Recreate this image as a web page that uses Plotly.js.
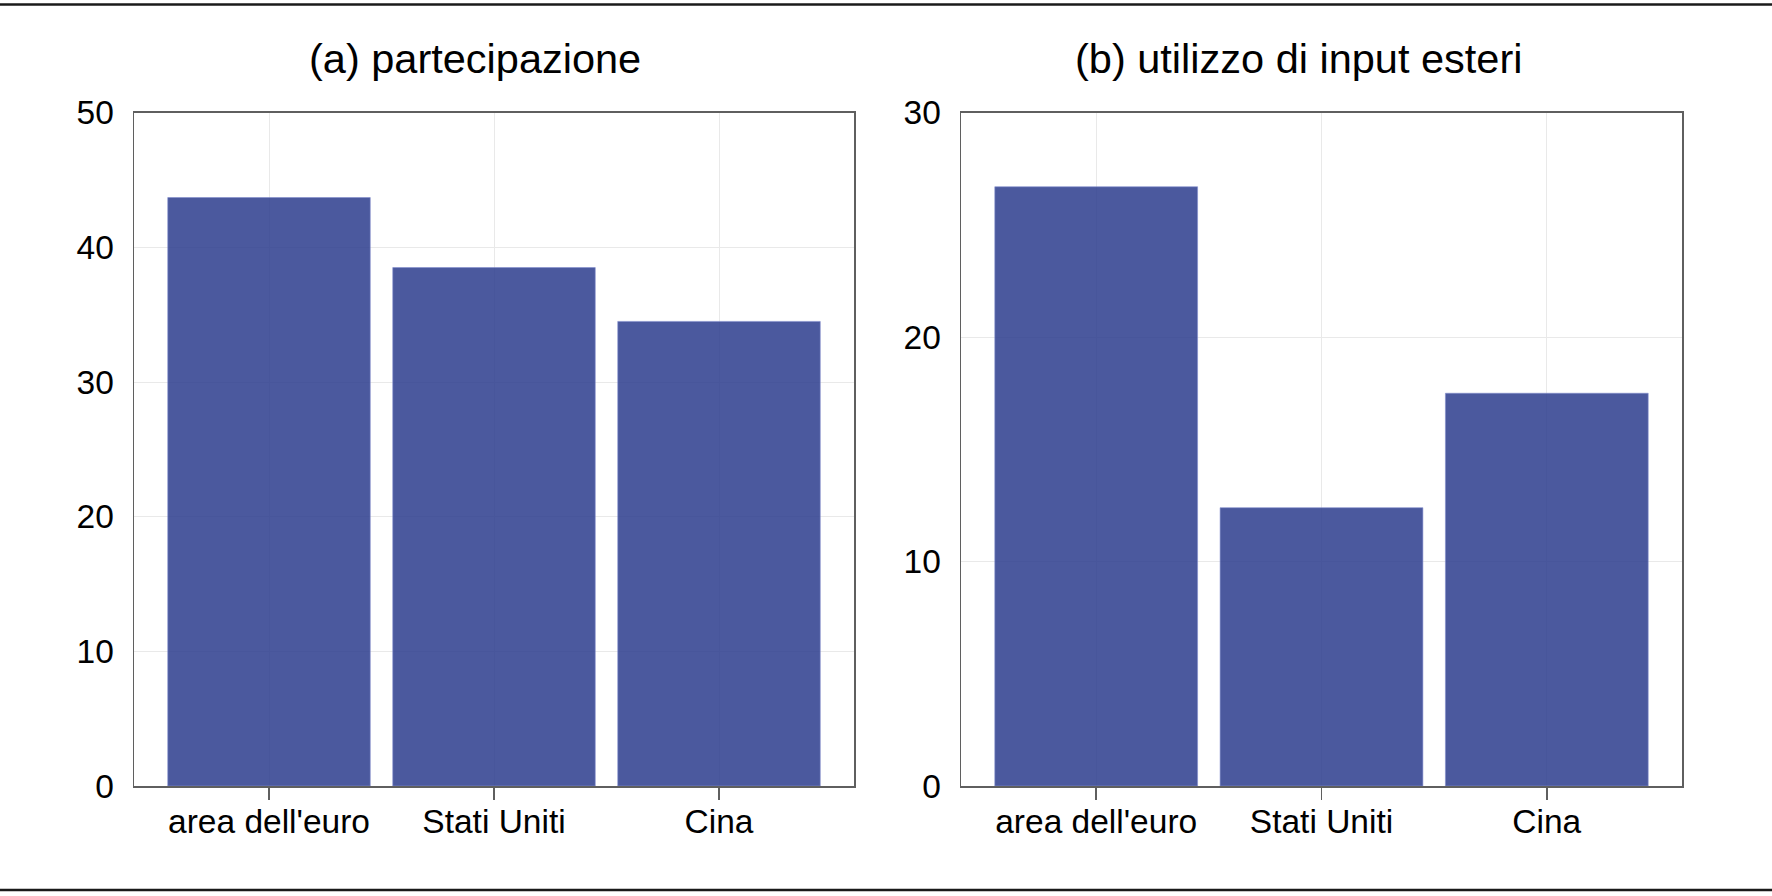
<!DOCTYPE html>
<html>
<head>
<meta charset="utf-8">
<script src="https://cdn.plot.ly/plotly-3.0.1.min.js"></script>
<style>
html,body{margin:0;padding:0;background:#fff;}
#chart{width:1772px;height:896px;}
</style>
</head>
<body>
<div id="chart"></div>
<script>
const categories = ["area dell'euro", "Stati Uniti", "Cina"];
const partecipazione = [43.7, 38.5, 34.5];
const inputEsteri = [26.7, 12.4, 17.5];
const titles = ["(a) partecipazione", "(b) utilizzo di input esteri"];
const yTicksA = [0, 10, 20, 30, 40, 50];
const yTicksB = [0, 10, 20, 30];

const W = 1772, H = 896;
const barColor = 'rgba(43,60,141,0.85)';
const barLine = {width: 1, color: 'rgba(130,140,205,0.6)'};
const font = "'Liberation Sans', Arial, Helvetica, sans-serif";

const traces = [
  {type: 'bar', x: categories, y: partecipazione, xaxis: 'x', yaxis: 'y',
   marker: {color: barColor, line: barLine}, hoverinfo: 'x+y'},
  {type: 'bar', x: categories, y: inputEsteri, xaxis: 'x2', yaxis: 'y2',
   marker: {color: barColor, line: barLine}, hoverinfo: 'x+y'}
];

const yDom = [1 - 786 / H, 1 - 112.7 / H];
const axisCommon = {
  showline: true, mirror: true, linecolor: '#5f5f5f', linewidth: 1.5,
  showgrid: true, gridcolor: '#e9e9e9', gridwidth: 1,
  zeroline: false, tickfont: {size: 33.5, color: '#000', family: font}
};
const xCommon = Object.assign({}, axisCommon, {
  type: 'category', range: [-0.6, 2.6], ticks: 'outside', ticklen: 12,
  tickcolor: '#5f5f5f', tickwidth: 1.5, fixedrange: true, ticklabelstandoff: -7
});
const yCommon = Object.assign({}, axisCommon, {
  ticks: '', ticklabelstandoff: 12, fixedrange: true
});

const layout = {
  width: W, height: H,
  margin: {l: 0, r: 0, t: 0, b: 0},
  paper_bgcolor: '#fff', plot_bgcolor: '#fff',
  showlegend: false, bargap: 0.1,
  font: {family: font, color: '#000'},
  xaxis: Object.assign({}, xCommon, {domain: [134 / W, 854 / W], anchor: 'y'}),
  yaxis: Object.assign({}, yCommon, {domain: yDom, anchor: 'x', range: [0, 50], tickvals: yTicksA}),
  xaxis2: Object.assign({}, xCommon, {domain: [961 / W, 1682 / W], anchor: 'y2'}),
  yaxis2: Object.assign({}, yCommon, {domain: yDom, anchor: 'x2', range: [0, 30], tickvals: yTicksB}),
  annotations: [
    {text: titles[0], xref: 'paper', yref: 'paper', x: 475 / W, y: 1 - 58 / H,
     xanchor: 'center', yanchor: 'middle', showarrow: false, font: {size: 41.5, color: '#000', family: font}},
    {text: titles[1], xref: 'paper', yref: 'paper', x: 1298.5 / W, y: 1 - 58 / H,
     xanchor: 'center', yanchor: 'middle', showarrow: false, font: {size: 41.5, color: '#000', family: font}}
  ],
  shapes: [
    {type: 'line', xref: 'paper', yref: 'paper', x0: 0, x1: 1, y0: 1 - 4.5 / H, y1: 1 - 4.5 / H,
     line: {color: '#1a1a1a', width: 2.5}},
    {type: 'line', xref: 'paper', yref: 'paper', x0: 0, x1: 1, y0: 1 - 890 / H, y1: 1 - 890 / H,
     line: {color: '#1a1a1a', width: 2.5}}
  ]
};

Plotly.newPlot('chart', traces, layout, {displayModeBar: false, staticPlot: true});
</script>
</body>
</html>
